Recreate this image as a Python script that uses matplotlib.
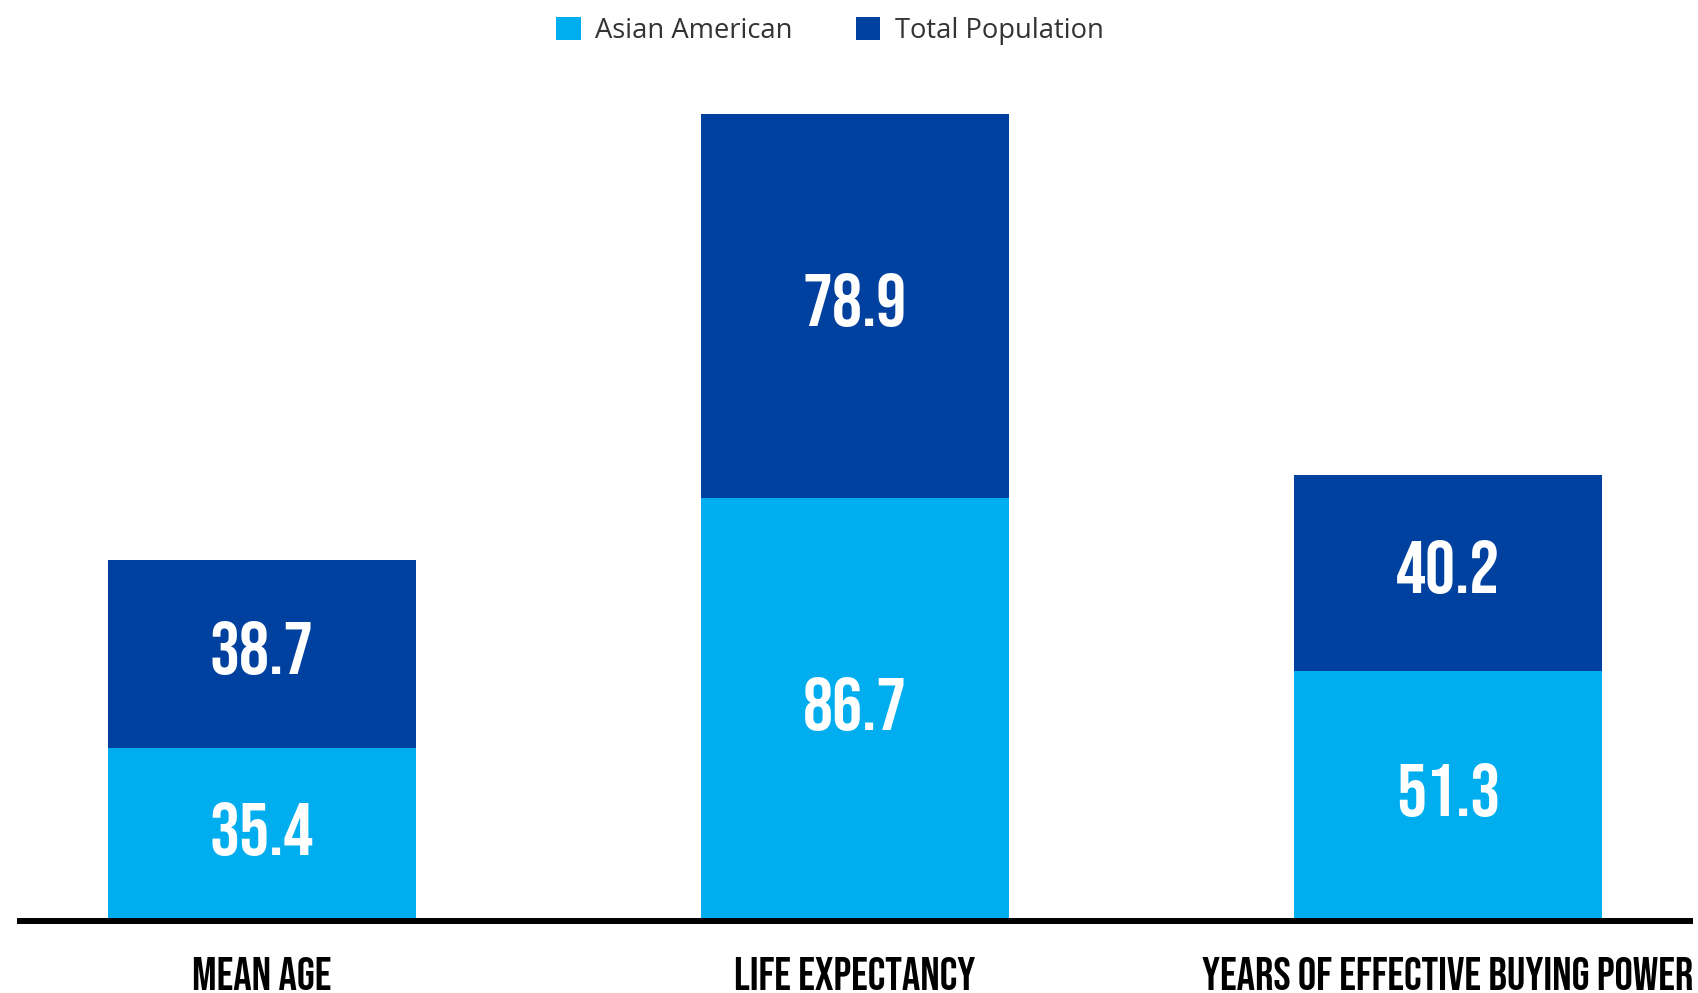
import matplotlib
matplotlib.use('Agg')
import matplotlib.pyplot as plt
import matplotlib.transforms as mtransforms
import numpy as np

categories = ['MEAN AGE', 'LIFE EXPECTANCY', 'YEARS OF EFFECTIVE BUYING POWER']
asian_american = [35.4, 86.7, 51.3]
total_population = [38.7, 78.9, 40.2]
series_names = ['Asian American', 'Total Population']

light = '#00AEEF'
dark = '#0041A0'
narrow = ['Bebas Neue', 'DejaVu Sans']

fig = plt.figure(figsize=(16.99, 9.93), dpi=100)
ax = fig.add_axes([20/1699, 1 - 921/993, 1670/1699, 877.7/993])

x = np.arange(len(categories))
b1 = ax.bar(x, asian_american, width=0.52, color=light, label=series_names[0], zorder=2)
b2 = ax.bar(x, total_population, width=0.52, bottom=asian_american, color=dark, label=series_names[1], zorder=2)

for i in range(len(categories)):
  ax.annotate('{0:.1f}'.format(asian_american[i]), (x[i], asian_american[i]/2), xytext=(0, 4),
              textcoords='offset points', ha='center', va='center', color='white', fontsize=54, family=narrow)
  ax.annotate('{0:.1f}'.format(total_population[i]), (x[i], asian_american[i] + total_population[i]/2),
              xytext=(0, 4), textcoords='offset points', ha='center', va='center', color='white',
              fontsize=54, family=narrow)

ax.set_xlim(-0.408, 2.408)
ax.set_ylim(0, 180)
for s in ['top', 'left', 'right']:
  ax.spines[s].set_visible(False)
ax.spines['bottom'].set_linewidth(4.3)
ax.spines['bottom'].set_color('black')
ax.spines['bottom'].set_zorder(3)
ax.set_yticks([])
ax.set_xticks([])

# category names under the baseline
trans = mtransforms.blended_transform_factory(ax.transData, fig.transFigure)
for i in range(len(categories)):
  ax.text(x[i], 1 - 990/993, categories[i], transform=trans, ha='center', va='baseline',
          fontsize=33, family=narrow, color='black', clip_on=False)

leg = fig.legend(handles=[b1, b2], labels=series_names, loc='center', bbox_to_anchor=(830/1699, 1 - 31/993),
                 ncol=2, frameon=False, handlelength=0.9, handleheight=0.9, handletextpad=0.52,
                 columnspacing=2.3, prop={'family': 'Open Sans', 'size': 19.7})
for t in leg.get_texts():
  t.set_color('#333333')

plt.savefig('out.png', dpi=100)
